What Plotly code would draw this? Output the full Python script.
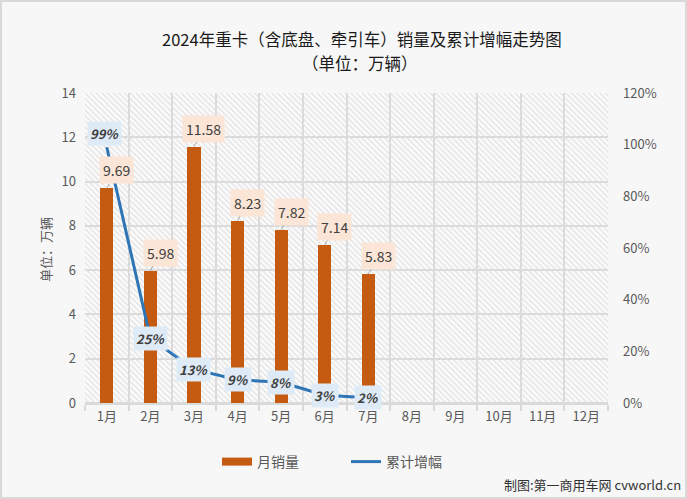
import plotly.graph_objects as go

months = ["1月", "2月", "3月", "4月", "5月", "6月", "7月", "8月", "9月", "10月", "11月", "12月"]
sales = [9.69, 5.98, 11.58, 8.23, 7.82, 7.14, 5.83]
growth = [0.99, 0.25, 0.13, 0.09, 0.08, 0.03, 0.02]
growth_labels = ["99%", "25%", "13%", "9%", "8%", "3%", "2%"]
y_max = 14

FONT = "Noto Sans CJK SC"
BAR_C = "#c55a11"
LINE_C = "#2e75b6"

W, H = 687, 499
ML, MR, MT, MB = 85, 79, 93, 96
PW, PH = W - ML - MR, H - MT - MB


def px(x):
    return (x - ML) / PW


def py(y):
    return (H - MB - y) / PH


fig = go.Figure()

# hatched plot background
fig.add_trace(go.Bar(
    x=months, y=[y_max] * len(months), width=1,
    marker=dict(color="rgba(0,0,0,0)", line=dict(width=0),
                pattern=dict(shape="\\", fgcolor="#e0e0e0", bgcolor="rgba(0,0,0,0)",
                             size=4, solidity=0.3, fillmode="replace")),
    showlegend=False, hoverinfo="skip",
))

fig.add_trace(go.Bar(
    x=months[:len(sales)], y=sales, width=0.3, name="月销量",
    marker=dict(color=BAR_C, line=dict(width=0)), showlegend=False,
))

fig.add_trace(go.Scatter(
    x=[None], y=[None], mode="lines", name="月销量",
    line=dict(color=BAR_C, width=8), hoverinfo="skip",
))

fig.add_trace(go.Scatter(
    x=months[:len(growth)], y=growth, yaxis="y2", mode="lines", name="累计增幅",
    line=dict(color=LINE_C, width=3),
))

ann = []
for m, v in zip(months, sales):
    ann.append(dict(
        x=m, y=v, xref="x", yref="y", text=f"{v:.2f}", showarrow=True,
        arrowhead=0, arrowwidth=1, arrowcolor="#a6a6a6", ax=10, ay=-18,
        bgcolor="#fbe5d6", borderpad=3, font=dict(family=FONT, size=14, color="#404040"),
    ))
for i, (m, g, t) in enumerate(zip(months, growth, growth_labels)):
    ann.append(dict(
        x=m, y=g, xref="x", yref="y2", text=f"<b><i>{t}</i></b>", showarrow=False,
        yshift=14 if i == 0 else 0, xshift=-2 if i == 0 else 0,
        bgcolor="#deebf7", borderpad=2, font=dict(family=FONT, size=13, color="#404040"),
    ))

ann.append(dict(
    x=px(362), y=py(39), xref="paper", yref="paper", xanchor="center", yanchor="middle",
    text="2024年重卡（含底盘、牵引车）销量及累计增幅走势图", showarrow=False,
    font=dict(family=FONT, size=16.5, color="#1a1a1a"),
))
ann.append(dict(
    x=px(360), y=py(63), xref="paper", yref="paper", xanchor="center", yanchor="middle",
    text="（单位：万辆）", showarrow=False,
    font=dict(family=FONT, size=16.5, color="#1a1a1a"),
))
ann.append(dict(
    x=px(683), y=py(484), xref="paper", yref="paper", xanchor="right", yanchor="middle",
    text="制图:第一商用车网 cvworld.cn", showarrow=False,
    font=dict(family=FONT, size=13, color="#333333"),
))
ann.append(dict(
    x=px(45), y=py(250), xref="paper", yref="paper", xanchor="center", yanchor="middle",
    text="单位：万辆", textangle=-90, showarrow=False,
    font=dict(family=FONT, size=13, color="#595959"),
))

fig.update_layout(
    width=W, height=H,
    margin=dict(l=ML, r=MR, t=MT, b=MB),
    paper_bgcolor="#f7f7f7", plot_bgcolor="#fbfbfb",
    barmode="overlay", bargap=0,
    font=dict(family=FONT, size=13, color="#595959"),
    xaxis=dict(type="category", categoryorder="array", categoryarray=months,
               range=[-0.5, 11.5], tickson="boundaries", showgrid=True,
               gridcolor="#d9d9d9", gridwidth=2, ticks="outside", ticklen=6,
               tickcolor="#d9d9d9", tickwidth=2, showline=True, linecolor="#d9d9d9",
               linewidth=2, tickfont=dict(size=13, color="#595959")),
    yaxis=dict(range=[0, y_max], dtick=2, showgrid=True, gridcolor="#d9d9d9", gridwidth=2,
               zeroline=True, zerolinecolor="#d9d9d9", zerolinewidth=2, ticks="",
               ticklabelstandoff=8, tickfont=dict(size=13, color="#595959")),
    yaxis2=dict(range=[0, 1.2], dtick=0.2, tickformat=".0%", overlaying="y", side="right",
                showgrid=False, zeroline=False, ticklabelstandoff=14,
                tickfont=dict(size=13, color="#595959")),
    legend=dict(orientation="h", x=px(217), xanchor="left", y=py(462), yanchor="middle",
                font=dict(size=14, color="#595959"), bgcolor="rgba(0,0,0,0)",
                entrywidth=84, itemwidth=30),
    annotations=ann,
    shapes=[dict(type="rect", xref="paper", yref="paper", x0=px(1), x1=px(W - 1),
                 y0=py(H - 1), y1=py(1), line=dict(color="#d9d9d9", width=2),
                 fillcolor="rgba(0,0,0,0)")],
    showlegend=True,
)

fig.write_html("out.html", config={"displayModeBar": False},
               post_script="document.body.style.margin='0';document.body.style.overflow='hidden';")
